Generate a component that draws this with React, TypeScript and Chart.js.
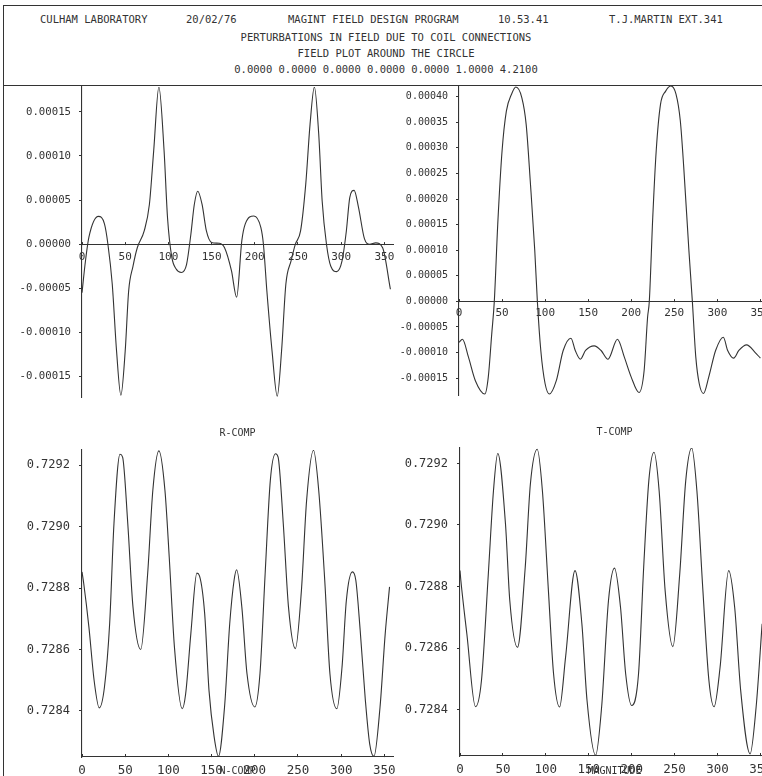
import React, { useEffect, useRef } from 'react';
import { Chart, registerables } from 'chart.js';

Chart.register(...registerables);

const FONT = '"DejaVu Sans Mono", "Liberation Mono", monospace';
const INK = '#333333';

// ---- header text ----
const HEADER_ROW_1 = ['CULHAM LABORATORY', '20/02/76', 'MAGINT FIELD DESIGN PROGRAM', '10.53.41', 'T.J.MARTIN EXT.341'];
const HEADER_ROW_1_X = [40, 186, 288, 498, 609];
const HEADER_LINES = [
  'PERTURBATIONS IN FIELD DUE TO COIL CONNECTIONS',
  'FIELD PLOT AROUND THE CIRCLE',
  '0.0000 0.0000 0.0000 0.0000 0.0000 1.0000 4.2100',
];

// ---- axes ----
const X_TICKS = [0, 50, 100, 150, 200, 250, 300, 350];
const TOP_LEFT_Y_TICKS = [-0.00015, -0.0001, -0.00005, 0, 0.00005, 0.0001, 0.00015];
const TOP_RIGHT_Y_TICKS = [-0.00015, -0.0001, -0.00005, 0, 0.00005, 0.0001, 0.00015, 0.0002, 0.00025, 0.0003, 0.00035, 0.0004];
const BOTTOM_Y_TICKS = [0.7284, 0.7286, 0.7288, 0.729, 0.7292];
const PANEL_TITLES = ['R-COMP', 'T-COMP'];
const AXIS_TITLES = ['N-COMP', 'MAGNITUDE'];

// ---- data: [angle in degrees, value] ----
const TOP_LEFT_POINTS: [number, number][] = [
  [0, -5.5e-5], [4, -1.9e-5], [8, 0.8e-5], [19, 3.15e-5], [26, 2.3e-5], [30, 0], [35, -4.5e-5],
  [40, -12.1e-5], [45, -17.1e-5], [50, -12.1e-5], [54, -5.3e-5], [59, -2.5e-5], [64, -0.4e-5],
  [72, 1.5e-5], [78, 4.5e-5], [83, 10.6e-5], [89, 17.8e-5], [95, 10.6e-5], [99, 3.0e-5],
  [104, -1.5e-5], [109, -2.8e-5], [115, -3.2e-5], [121, -2.3e-5], [126, 1.1e-5], [130, 4.5e-5],
  [134, 6.0e-5], [139, 4.5e-5], [144, 1.5e-5], [150, 0.2e-5], [159, 0.1e-5], [165, -0.4e-5],
  [173, -3.0e-5], [179, -6.0e-5], [185, 0.4e-5], [189, 2.3e-5], [199, 3.2e-5], [207, 1.9e-5],
  [210, 0], [214, -5.3e-5], [220, -12.1e-5], [226, -17.2e-5], [231, -12.1e-5], [236, -4.5e-5],
  [242, -1.9e-5], [247, 0], [253, 1.5e-5], [259, 6.8e-5], [264, 13.6e-5], [269, 17.8e-5],
  [274, 12.5e-5], [278, 4.9e-5], [283, 0], [288, -2.5e-5], [295, -3.1e-5], [301, -1.9e-5],
  [306, 1.5e-5], [310, 5.3e-5], [315, 6.1e-5], [320, 4.2e-5], [327, 0.6e-5], [333, 0],
  [340, 0.15e-5], [348, -0.4e-5], [357, -5.1e-5],
];

const TOP_RIGHT_POINTS: [number, number][] = [
  [0, -8.0e-5], [4, -7.4e-5], [11, -10.9e-5], [19, -15.5e-5], [30, -18.1e-5], [34, -14.8e-5],
  [38, -6.4e-5], [41, 0], [45, 15.1e-5], [50, 29.4e-5], [55, 37.2e-5], [61, 40.5e-5], [66, 41.9e-5],
  [73, 39.8e-5], [78, 34.6e-5], [83, 22.9e-5], [88, 9.9e-5], [91, 0], [95, -9.6e-5], [100, -16.1e-5],
  [105, -18.1e-5], [113, -15.5e-5], [121, -9.6e-5], [130, -7.2e-5], [135, -9.6e-5], [141, -11.3e-5],
  [147, -9.6e-5], [157, -8.7e-5], [165, -9.6e-5], [173, -11.3e-5], [184, -7.4e-5], [192, -10.9e-5],
  [200, -14.8e-5], [209, -17.8e-5], [215, -13.5e-5], [219, -3.1e-5], [221, 0], [225, 16.4e-5],
  [229, 29.4e-5], [234, 38.5e-5], [240, 41.1e-5], [246, 42.1e-5], [252, 40.5e-5], [257, 35.3e-5],
  [261, 26.2e-5], [267, 9.9e-5], [271, 0], [275, -10.9e-5], [279, -16.1e-5], [284, -18.0e-5],
  [290, -14.8e-5], [298, -9.6e-5], [307, -7.0e-5], [312, -9.6e-5], [319, -11.1e-5], [325, -9.6e-5],
  [334, -8.5e-5], [344, -10.0e-5], [350, -11.1e-5],
];

const R_COMP_POINTS: [number, number][] = [
  [0, 0.728853], [2, 0.728815], [8, 0.728673], [14, 0.7285], [20, 0.72841], [26, 0.728478],
  [32, 0.728684], [37, 0.72901], [44, 0.729236], [47, 0.729227], [53, 0.72901], [59, 0.728739],
  [68, 0.7286], [76, 0.728847], [82, 0.729119], [89, 0.729247], [96, 0.729119], [101, 0.7289],
  [107, 0.728608], [116, 0.728407], [120, 0.728456], [126, 0.728652], [133, 0.728849], [136, 0.72884],
  [142, 0.728717], [147, 0.728467], [153, 0.728315], [158, 0.728252], [165, 0.728413], [171, 0.728684],
  [176, 0.728825], [179, 0.72886], [185, 0.728739], [191, 0.728521], [200, 0.728413], [206, 0.728521],
  [212, 0.728847], [218, 0.729151], [224, 0.729238], [227, 0.729227], [233, 0.72901], [239, 0.728739],
  [247, 0.728603], [254, 0.728793], [260, 0.729086], [268, 0.729249], [274, 0.729119], [281, 0.728825],
  [287, 0.728521], [295, 0.728407], [301, 0.728543], [306, 0.72876], [313, 0.728853], [317, 0.728825],
  [322, 0.728663], [328, 0.728435], [333, 0.728293], [338, 0.728252], [345, 0.728413], [351, 0.728652],
  [356, 0.728804],
];

const T_COMP_POINTS: [number, number][] = [
  [0, 0.728852], [1, 0.72882], [8, 0.728646], [18, 0.72841], [25, 0.728495], [33, 0.728841],
  [39, 0.729111], [44, 0.729232], [53, 0.729003], [58, 0.728755], [67, 0.728603], [76, 0.728863],
  [82, 0.729133], [90, 0.729246], [96, 0.729111], [103, 0.728787], [109, 0.728517], [116, 0.728409],
  [123, 0.728571], [134, 0.728852], [142, 0.728679], [148, 0.72843], [158, 0.728252], [165, 0.728409],
  [173, 0.728755], [180, 0.72886], [187, 0.728733], [193, 0.728517], [200, 0.728414], [208, 0.728517],
  [214, 0.728863], [220, 0.729144], [226, 0.729236], [232, 0.729111], [239, 0.728787], [248, 0.728605],
  [256, 0.728841], [263, 0.729144], [270, 0.72925], [276, 0.729111], [283, 0.728787], [290, 0.728495],
  [296, 0.72841], [303, 0.728538], [313, 0.728852], [320, 0.728733], [327, 0.728463], [338, 0.728257],
  [345, 0.728409], [352, 0.728679],
];

type Panel = {
  key: string;
  left: number; top: number; width: number; height: number;
  axisW: number; padTop: number; padRight: number; padBottom: number;
  zeroAxis: boolean; xHeight: number;
  yMin: number; yMax: number; yTicks: number[]; yDigits: number;
  yFont: number; xFont: number; xPad: number; yPad: number;
  points: [number, number][];
  title?: string; titleOffset?: number; xTitle?: string;
};

const PANELS: Panel[] = [
  {
    key: 'tl', left: 0, top: 80, width: 400, height: 330,
    axisW: 82, padTop: 7, padRight: 7, padBottom: 13, zeroAxis: true, xHeight: 0,
    yMin: -0.000173, yMax: 0.000178, yTicks: TOP_LEFT_Y_TICKS, yDigits: 5,
    yFont: 10.7, xFont: 11, xPad: 9, yPad: 8, points: TOP_LEFT_POINTS,
  },
  {
    key: 'tr', left: 385, top: 80, width: 400, height: 330,
    axisW: 74, padTop: 6, padRight: 16, padBottom: 15, zeroAxis: true, xHeight: 0,
    yMin: -0.000183, yMax: 0.000421, yTicks: TOP_RIGHT_Y_TICKS, yDigits: 5,
    yFont: 10, xFont: 11, xPad: 8, yPad: 8, points: TOP_RIGHT_POINTS,
  },
  {
    key: 'bl', left: 0, top: 410, width: 400, height: 366,
    axisW: 82, padTop: 40, padRight: 7, padBottom: 0, zeroAxis: false, xHeight: 19,
    yMin: 0.72825, yMax: 0.72925, yTicks: BOTTOM_Y_TICKS, yDigits: 4,
    yFont: 12, xFont: 12.5, xPad: 9, yPad: 9, points: R_COMP_POINTS,
    title: PANEL_TITLES[0], titleOffset: 17, xTitle: AXIS_TITLES[0],
  },
  {
    key: 'br', left: 385, top: 410, width: 400, height: 366,
    axisW: 75, padTop: 38, padRight: 16, padBottom: 0, zeroAxis: false, xHeight: 20,
    yMin: 0.72825, yMax: 0.72925, yTicks: BOTTOM_Y_TICKS, yDigits: 4,
    yFont: 12, xFont: 12.5, xPad: 9, yPad: 9, points: T_COMP_POINTS,
    title: PANEL_TITLES[1], titleOffset: 16, xTitle: AXIS_TITLES[1],
  },
];

function PanelChart({ p }: { p: Panel }) {
  const ref = useRef<HTMLCanvasElement | null>(null);
  useEffect(() => {
    if (!ref.current) return;
    const titlePlugin = {
      id: 'panelTitle' + p.key,
      afterDraw(chart: any) {
        if (!p.title) return;
        const { ctx, chartArea } = chart;
        ctx.save();
        ctx.font = `10px ${FONT}`;
        ctx.fillStyle = INK;
        ctx.textAlign = 'center';
        ctx.textBaseline = 'middle';
        ctx.fillText(p.title, (chartArea.left + chartArea.right) / 2, chartArea.top - (p.titleOffset || 17));
        ctx.restore();
      },
    };
    const chart = new Chart(ref.current, {
      type: 'line',
      data: {
        datasets: [
          {
            data: p.points.map(([x, y]) => ({ x, y })),
            borderColor: INK,
            borderWidth: 1.1,
            pointRadius: 0,
            fill: false,
            cubicInterpolationMode: 'monotone',
          },
        ],
      },
      options: {
        animation: false,
        responsive: false,
        maintainAspectRatio: false,
        events: [],
        layout: { padding: { left: 0, top: p.padTop, right: p.padRight, bottom: p.padBottom } },
        plugins: { legend: { display: false }, tooltip: { enabled: false }, title: { display: false } },
        scales: {
          x: {
            type: 'linear',
            min: 0,
            max: 360,
            position: p.zeroAxis ? { y: 0 } : 'bottom',
            afterBuildTicks: (s: any) => {
              s.ticks = X_TICKS.map((value) => ({ value }));
            },
            afterFit: (s: any) => {
              s.height = p.xHeight;
              s.paddingLeft = 0;
              s.paddingRight = 0;
            },
            grid: { drawOnChartArea: false, drawTicks: true, tickLength: -3, color: INK, lineWidth: 1 },
            border: { display: true, color: INK, width: 1.1 },
            ticks: {
              font: { family: FONT, size: p.xFont },
              color: INK,
              padding: p.xPad,
              maxRotation: 0,
              autoSkip: false,
              callback: (v: any) => String(v),
            },
            title: p.xTitle
              ? { display: true, text: p.xTitle, color: INK, font: { family: FONT, size: 10, lineHeight: 1 }, padding: { top: 0, bottom: 0 } }
              : { display: false },
          },
          y: {
            type: 'linear',
            min: p.yMin,
            max: p.yMax,
            position: 'left',
            afterBuildTicks: (s: any) => {
              s.ticks = p.yTicks.map((value) => ({ value }));
            },
            afterFit: (s: any) => {
              s.width = p.axisW;
              s.paddingTop = 0;
              s.paddingBottom = 0;
            },
            grid: { drawOnChartArea: false, drawTicks: true, tickLength: 3, color: INK, lineWidth: 1 },
            border: { display: true, color: INK, width: 1.1 },
            ticks: {
              font: { family: FONT, size: p.yFont },
              color: INK,
              padding: p.yPad,
              autoSkip: false,
              callback: (v: any) => Number(v).toFixed(p.yDigits),
            },
          },
        },
      } as any,
      plugins: [titlePlugin],
    } as any);
    return () => chart.destroy();
  }, [p]);
  return (
    <canvas
      ref={ref}
      width={p.width}
      height={p.height}
      style={{ position: 'absolute', left: p.left, top: p.top, width: p.width, height: p.height }}
    />
  );
}

const textStyle: React.CSSProperties = {
  position: 'absolute',
  fontFamily: FONT,
  fontSize: 10.5,
  lineHeight: '14px',
  color: INK,
  whiteSpace: 'pre',
};

const HEADER_LINE_Y = [37, 53, 69];

export default function App() {
  return (
    <div
      style={{
        position: 'fixed',
        left: 0,
        top: 0,
        width: 762,
        height: 776,
        overflow: 'hidden',
        background: '#ffffff',
      }}
    >
      <div
        style={{
          position: 'absolute',
          left: 3,
          top: 5,
          width: 820,
          height: 81,
          border: `1px solid ${INK}`,
          boxSizing: 'border-box',
        }}
      />
      <div style={{ position: 'absolute', left: 3, top: 5, width: 1, height: 771, background: INK }} />
      {HEADER_ROW_1.map((t, i) => (
        <div key={t} style={{ ...textStyle, left: HEADER_ROW_1_X[i], top: 19 - 7 }}>
          {t}
        </div>
      ))}
      {HEADER_LINES.map((t, i) => (
        <div key={t} style={{ ...textStyle, left: 386, top: HEADER_LINE_Y[i] - 7, transform: 'translateX(-50%)' }}>
          {t}
        </div>
      ))}
      {PANELS.map((p) => (
        <PanelChart key={p.key} p={p} />
      ))}
    </div>
  );
}
